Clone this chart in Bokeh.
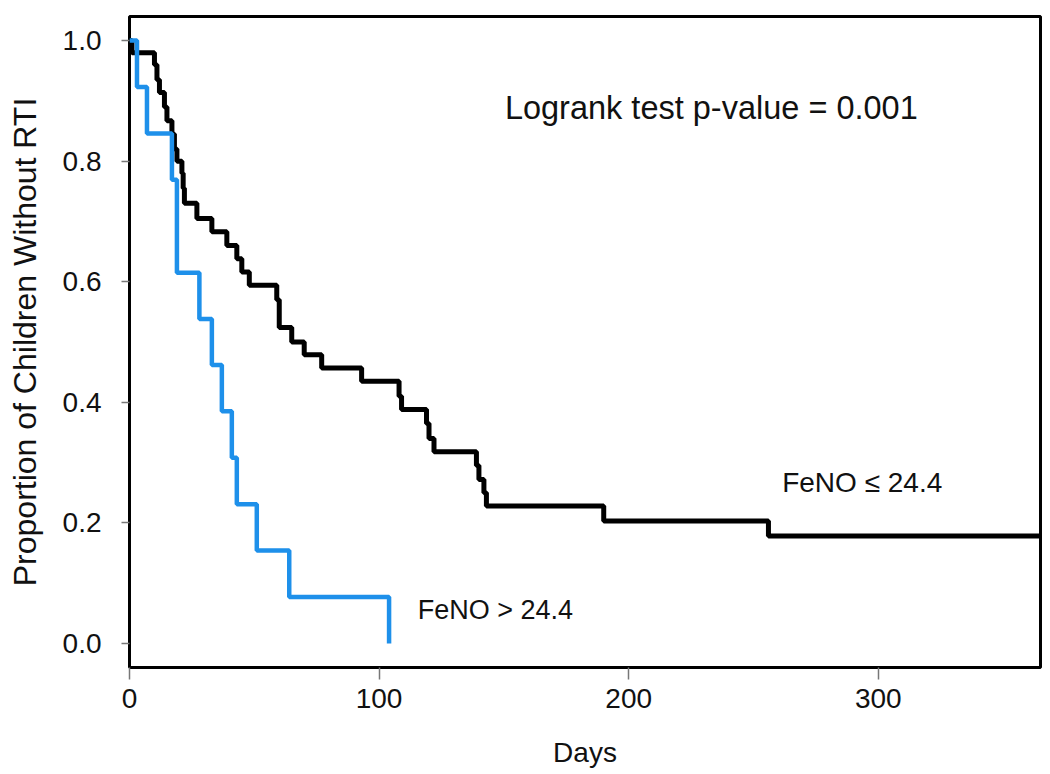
from bokeh.plotting import figure
from bokeh.embed import file_html
from bokeh.resources import INLINE
from bokeh.models import Range1d, FixedTicker
from bokeh.core.properties import value

# Kaplan-Meier curves
low_days = [0, 1, 10, 11, 12, 14, 15, 17, 18, 19, 21, 21.5, 22, 27, 33, 39, 43, 45, 48,
            59, 60, 65, 70, 77, 93, 108, 109, 119, 120, 122, 139, 140, 142, 143, 190, 256, 365]
low_surv = [1.0, 0.98, 0.96, 0.935, 0.914, 0.89, 0.867, 0.845, 0.82, 0.80, 0.78, 0.755, 0.73,
            0.705, 0.683, 0.66, 0.638, 0.616, 0.594, 0.57, 0.524, 0.50, 0.479, 0.457, 0.435,
            0.41, 0.388, 0.365, 0.34, 0.318, 0.295, 0.272, 0.25, 0.228, 0.203, 0.178, 0.178]

high_days = [0, 3, 7, 17, 19, 28, 33, 37, 41, 43, 51, 64, 104]
high_surv = [1.0, 0.923, 0.846, 0.769, 0.615, 0.538, 0.462, 0.385, 0.308, 0.231, 0.154, 0.077, 0.0]

x_ticks = [0, 100, 200, 300]
y_ticks = [0.0, 0.2, 0.4, 0.6, 0.8, 1.0]
y_tick_labels = {0.0: "0.0", 0.2: "0.2", 0.4: "0.4", 0.6: "0.6", 0.8: "0.8", 1.0: "1.0"}

FONT = "Liberation Sans"

p = figure(width=1042, height=770, output_backend="svg", toolbar_location=None,
           x_range=Range1d(0, 365), y_range=Range1d(-0.04, 1.04),
           min_border_left=129, min_border_right=2, min_border_top=16, min_border_bottom=98)

p.background_fill_color = "white"
p.border_fill_color = "white"
p.outline_line_color = "black"
p.outline_line_width = 3
p.xgrid.visible = False
p.ygrid.visible = False

p.step(low_days, low_surv, mode="after", line_color="black", line_width=5)
p.step(high_days, high_surv, mode="after", line_color="#1e90ea", line_width=4.5)

p.text(x=[150.4], y=[0.889], text=["Logrank test p-value = 0.001"],
       text_font=value(FONT), text_font_size="32.5px", text_color="#111111",
       text_baseline="alphabetic", text_align="left")
p.text(x=[261.5], y=[0.267], text=["FeNO \u2264 24.4"],
       text_font=value(FONT), text_font_size="28px", text_color="#111111",
       text_baseline="alphabetic", text_align="left")
p.text(x=[115.5], y=[0.055], text=["FeNO > 24.4"],
       text_font=value(FONT), text_font_size="27px", text_color="#111111",
       text_baseline="alphabetic", text_align="left")

for ax in (p.xaxis[0], p.yaxis[0]):
    ax.axis_line_color = None
    ax.major_tick_line_color = "#777777"
    ax.major_tick_line_width = 1.5
    ax.minor_tick_line_color = None
    ax.major_tick_in = 0
    ax.major_label_text_font = FONT
    ax.major_label_text_font_size = "28px"
    ax.major_label_text_color = "#111111"
    ax.axis_label_text_font = FONT
    ax.axis_label_text_font_style = "normal"
    ax.axis_label_text_color = "#111111"

p.xaxis.ticker = FixedTicker(ticks=x_ticks)
p.xaxis.major_tick_out = 12
p.xaxis.major_label_standoff = 9
p.xaxis.axis_label = "Days"
p.xaxis.axis_label_text_font_size = "28px"
p.xaxis.axis_label_standoff = 26

p.yaxis.ticker = FixedTicker(ticks=y_ticks)
p.yaxis.major_label_overrides = y_tick_labels
p.yaxis.major_tick_out = 8
p.yaxis.major_label_standoff = 20
p.yaxis.axis_label = "Proportion of Children Without RTI"
p.yaxis.axis_label_text_font_size = "32px"
p.yaxis.axis_label_standoff = 17

open("out.html", "w").write(file_html(p, INLINE))
